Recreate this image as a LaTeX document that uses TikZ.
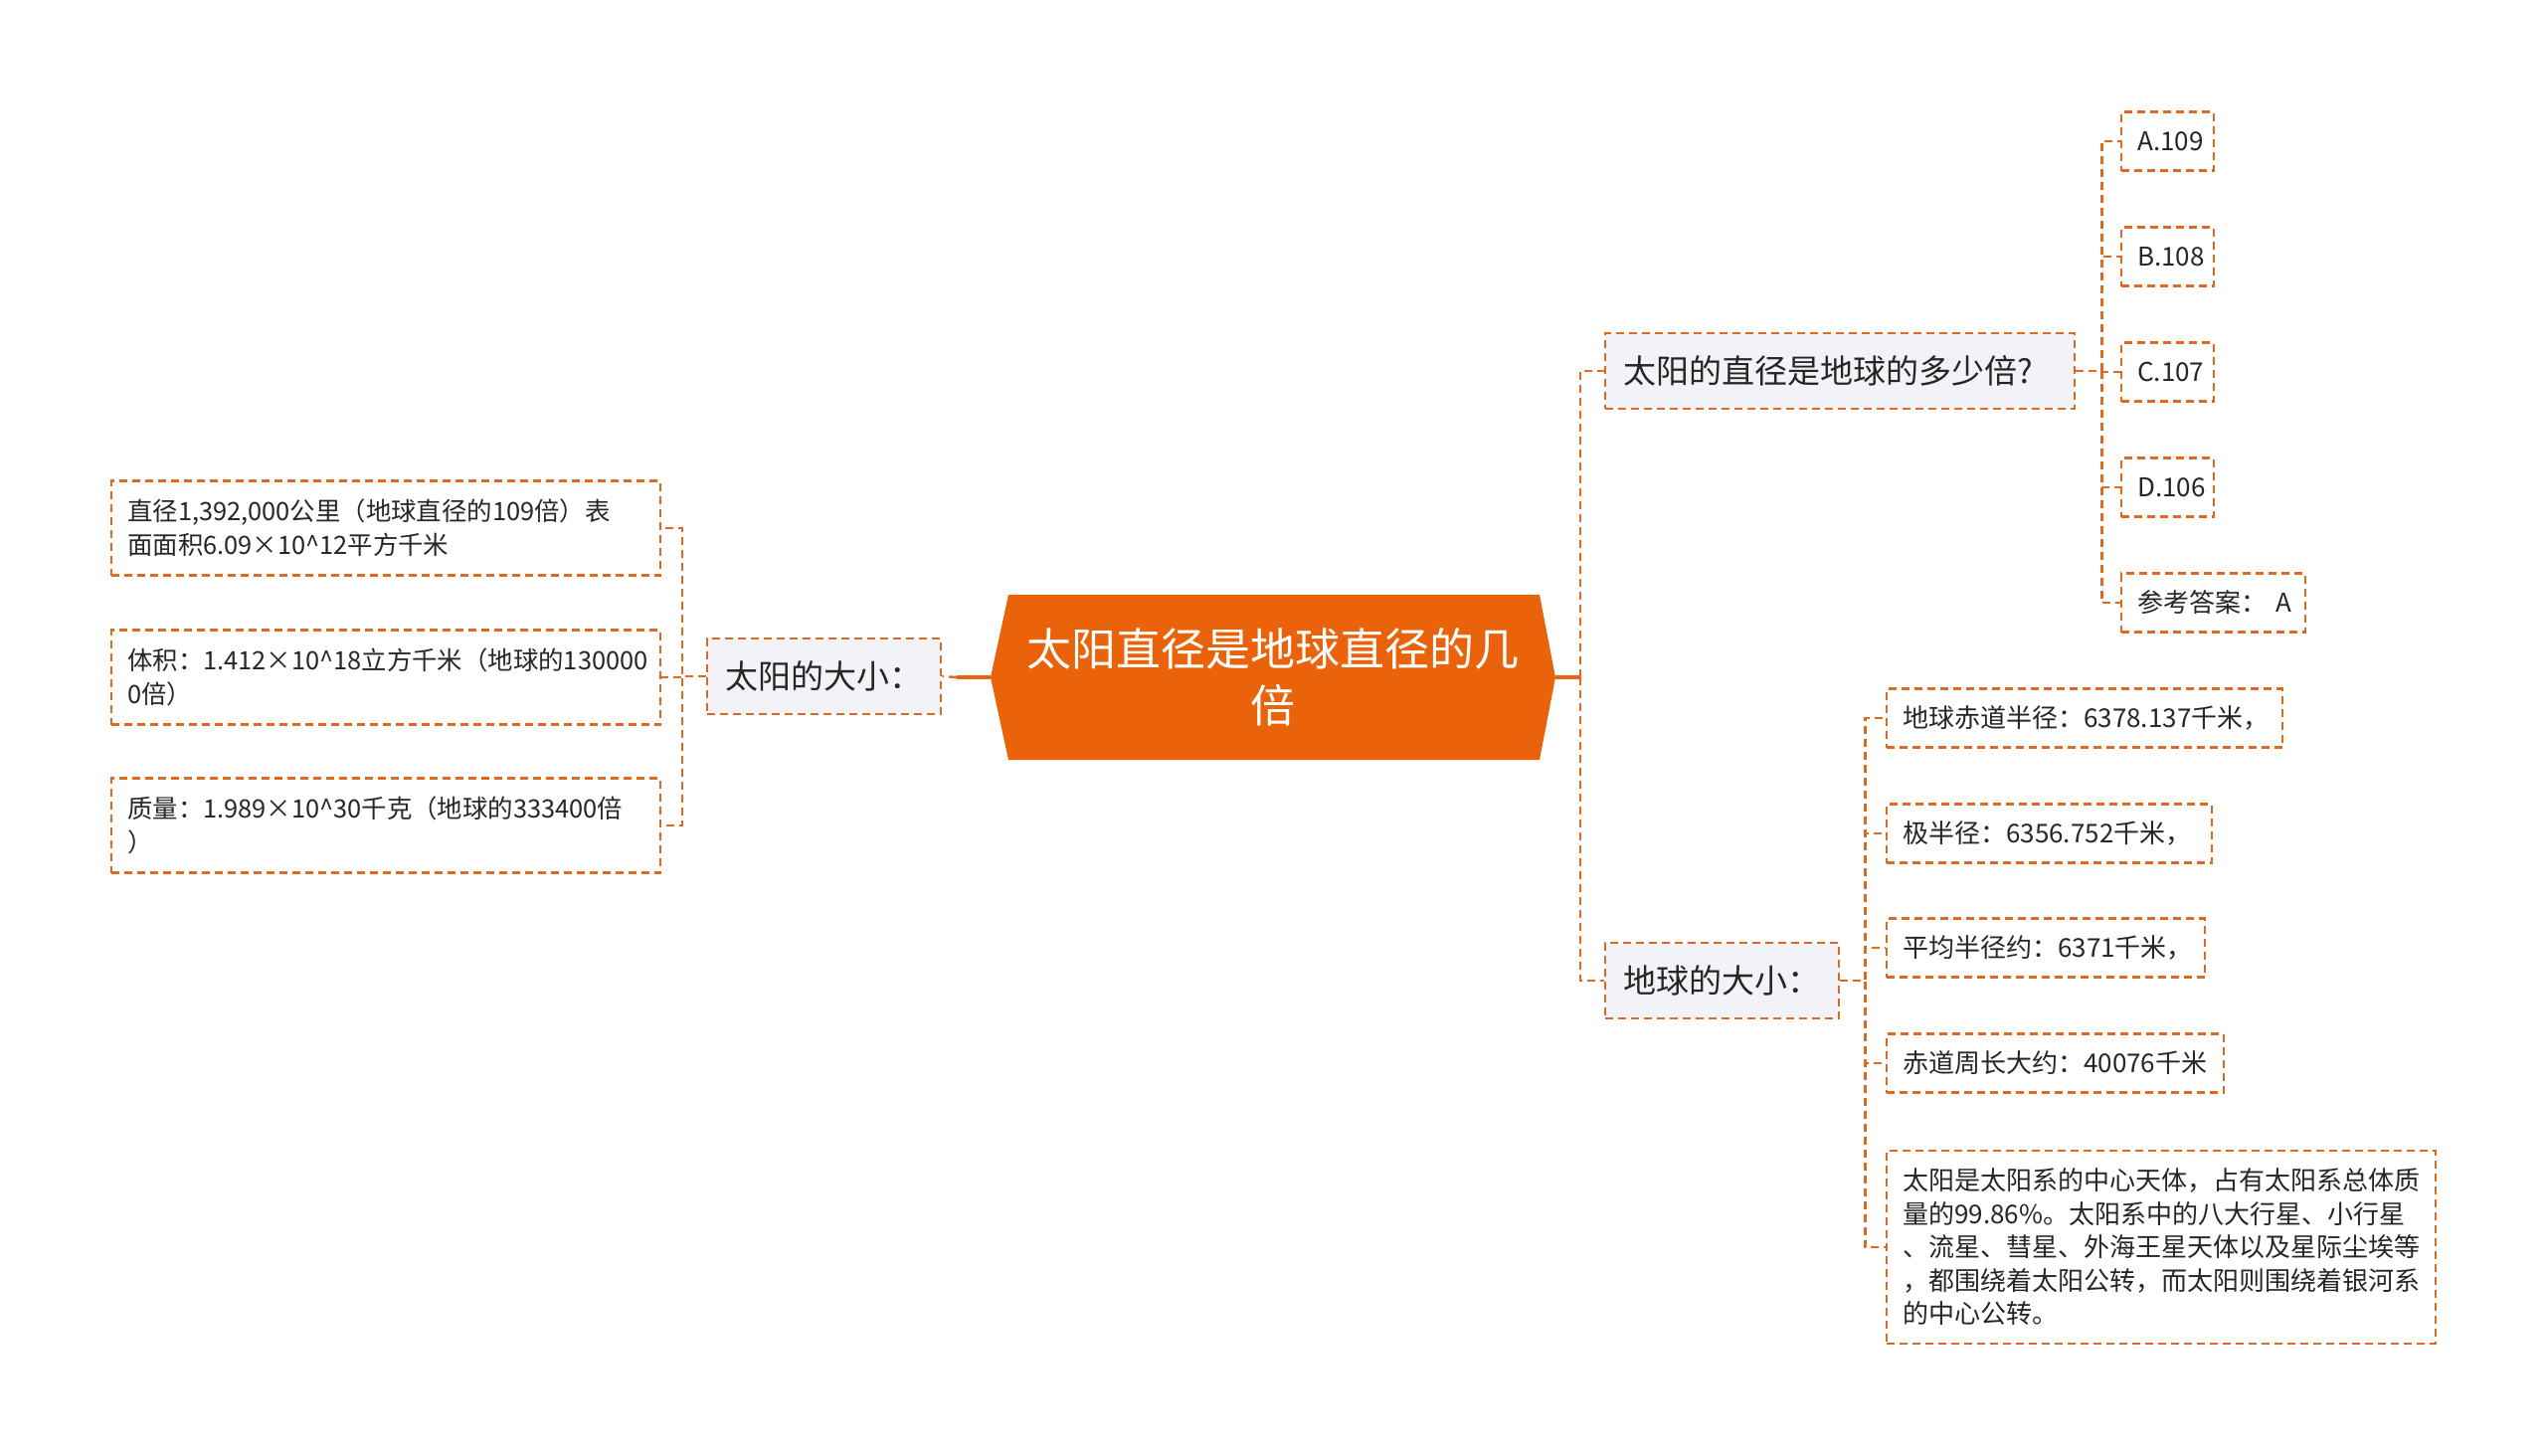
\documentclass[tikz,border=0pt]{standalone}
\usepackage{fontspec}
\setmainfont{Noto Sans CJK SC}
\definecolor{ocenter}{HTML}{EA6209}
\definecolor{oline}{HTML}{DE6A20}
\definecolor{gfill}{HTML}{F1F3F6}
\definecolor{tcol}{HTML}{262626}
\begin{document}
\begin{tikzpicture}[x=0.5pt,y=-0.5pt,
  dashline/.style={draw=oline, line width=1.2pt, dash pattern=on 4pt off 2.5pt},
  solidline/.style={draw=ocenter, line width=1.6pt},
  hexnode/.style={text=white, font=\fontsize{22.5}{28.5}\selectfont, align=center, minimum width=284pt, minimum height=83pt, inner sep=0pt},
  mid/.style={dashline, fill=gfill, font=\fontsize{16.5}{20}\selectfont, text=tcol, inner xsep=9pt, inner ysep=0pt, minimum height=38pt, anchor=west, align=left},
  leaf/.style={dashline, fill=white, font=\fontsize{13}{17}\selectfont, text=tcol, inner xsep=8pt, inner ysep=0pt, anchor=west, align=left, minimum height=29.5pt},
  leftleaf/.style={leaf, font=\fontsize{12.7}{17}\selectfont, text width=260pt, minimum height=47.5pt},
  longleaf/.style={leaf, font=\fontsize{13}{16.75}\selectfont}
]
\useasboundingbox[fill=white] (0,0) rectangle (2560,1463);

% central hexagon
\fill[ocenter] (996,681) -- (1014,598) -- (1548,598) -- (1564,681) -- (1548,764) -- (1014,764) -- cycle;
\node[hexnode] (c) at (1280,681) {太阳直径是地球直径的几\\倍};

% second level
\node[mid, text width=99.5pt] (sun) at (710,680) {太阳的大小：};
\node[mid, text width=218pt] (q) at (1613,373) {太阳的直径是地球的多少倍?};
\node[mid, text width=99.5pt] (earth) at (1613,986) {地球的大小：};

% left leaves
\node[leftleaf] (l1) at (111,531) {直径1,392,000公里（地球直径的109倍）表\\面面积6.09×10\textasciicircum12平方千米};
\node[leftleaf] (l2) at (111,681) {体积：1.412×10\textasciicircum18立方千米（地球的130000\\0倍）};
\node[leftleaf] (l3) at (111,830) {质量：1.989×10\textasciicircum30千克（地球的333400倍\\）};

% question options
\node[leaf, text width=30.5pt] (o1) at (2132,142) {A.109};
\node[leaf, text width=30.5pt] (o2) at (2132,258) {B.108};
\node[leaf, text width=30.5pt] (o3) at (2132,374) {C.107};
\node[leaf, text width=30.5pt] (o4) at (2132,490) {D.106};
\node[leaf, text width=76.5pt] (o5) at (2132,606) {\mbox{参考答案：\hspace{0.35em}A}};

% earth leaves
\node[leaf, text width=183pt] (e1) at (1896,722) {地球赤道半径：6378.137千米，};
\node[leaf, text width=147.5pt] (e2) at (1896,838) {极半径：6356.752千米，};
\node[leaf, text width=144pt] (e3) at (1896,953) {平均半径约：6371千米，};
\node[leaf, text width=153.5pt] (e4) at (1896,1069) {赤道周长大约：40076千米};
\node[longleaf, text width=260pt, minimum height=97pt] (e5) at (1896,1254) {太阳是太阳系的中心天体，占有太阳系总体质\\量的99.86\%。太阳系中的八大行星、小行星\\、流星、彗星、外海王星天体以及星际尘埃等\\，都围绕着太阳公转，而太阳则围绕着银河系\\的中心公转。};

% junctions
\coordinate (jr) at (1589,681);
\coordinate (jl) at (962,681);

% connectors from centre
\draw[solidline] (c.east) -- (jr);
\draw[dashline] (jr) |- (q.west);
\draw[dashline] (jr) |- (earth.west);
\draw[solidline] (c.west) -- (jl);
\draw[dashline] (jl) -- (sun.east);

% left children
\foreach \n in {l1,l2,l3}{
  \draw[dashline] (sun.west) -- ++(-24,0) |- (\n.east);
}
% question children
\foreach \n in {o1,o2,o3,o4,o5}{
  \draw[dashline] (q.east) -- ++(26,0) |- (\n.west);
}
% earth children
\foreach \n in {e1,e2,e3,e4,e5}{
  \draw[dashline] (earth.east) -- ++(25,0) |- (\n.west);
}
\end{tikzpicture}
\end{document}
